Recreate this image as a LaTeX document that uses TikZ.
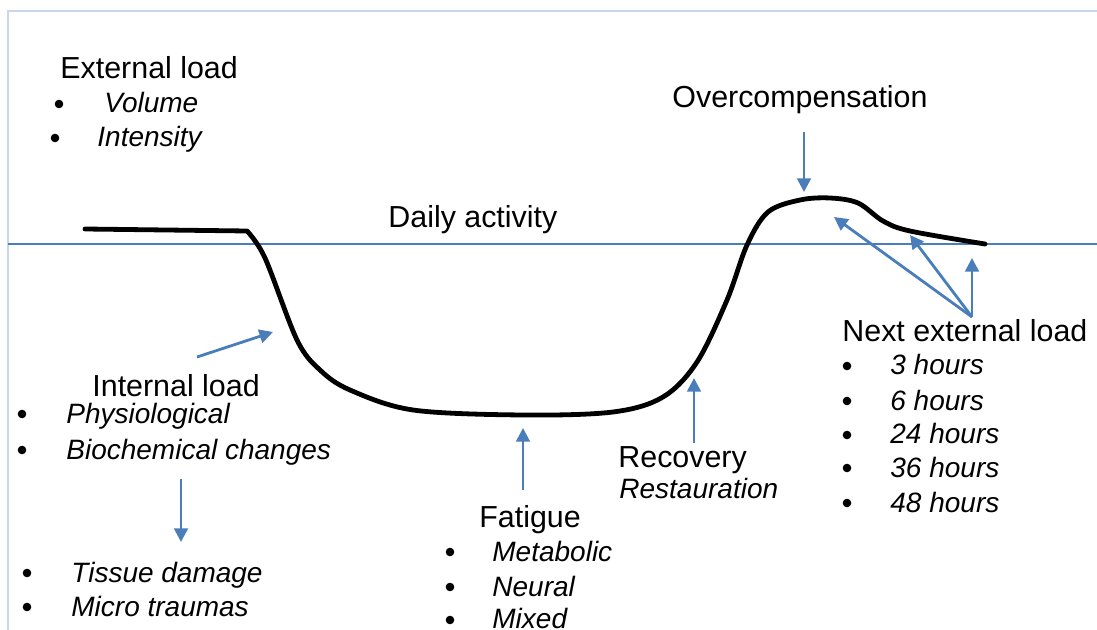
\documentclass[tikz,border=0pt]{standalone}
\usepackage{fontspec}
\setmainfont{Liberation Sans}
\usetikzlibrary{arrows.meta}
\definecolor{lblue}{HTML}{4A7EBB}
\definecolor{frameblue}{HTML}{C8D7EC}
\tikzset{
  curveline/.style={line width=2.4pt, black, line join=round, line cap=round},
  baseline/.style={draw=lblue, line width=0.65pt},
  frameline/.style={draw=frameblue, line width=0.7pt},
  arr/.style={-{Triangle[length=6.8pt,width=6.8pt]}, draw=lblue, line width=1.4pt},
  head/.style={font=\fontsize{15.2}{17}\selectfont, anchor=base west, inner sep=0pt},
  item/.style={font=\fontsize{14}{17}\selectfont\itshape, anchor=base west, inner sep=0pt},
  bul/.style={circle, fill=black, inner sep=0pt, minimum size=4.3pt}
}
\begin{document}
\begin{tikzpicture}[x=0.5pt,y=-0.5pt]
\useasboundingbox (0,0) rectangle (1097,630);
% frame
\draw[frameline] (8,640) -- (8,11) -- (1110,11);
% daily activity line
\draw[baseline] (8,244) -- (1097,244);
% curve
\draw[curveline] (85,229) -- (247,231)
  plot[smooth, tension=0.55] coordinates {(247,231) (265,258) (297,340) (320,370) (350,390) (413,410) (523,415) (613,412) (663,397) (697,362) (727,300) (747,245) (768,212) (800,200) (830,198) (858,203) (883,221) (910,231) (985,244)};

% texts
\node[head] (ext) at (60,79) {External load};
\node[bul] (b1) at (59,104) {};
\node[item] (vol) at (104,113) {Volume};
\node[bul] (b2) at (55,138) {};
\node[item] (int) at (97,147) {Intensity};

\node[head] (daily) at (388,228) {Daily activity};
\node[head] (over) at (672,108) {Overcompensation};

\node[head] (inl) at (92,397) {Internal load};
\node[bul] (b3) at (22,414) {};
\node[item] (phys) at (66,423) {Physiological};
\node[bul] (b4) at (22,450) {};
\node[item] (bio) at (66,459) {Biochemical changes};
\node[bul] (b5) at (27,573) {};
\node[item] (tis) at (71,582) {Tissue damage};
\node[bul] (b6) at (27,607) {};
\node[item] (mic) at (71,616) {Micro traumas};

\node[head] (fat) at (479,527) {Fatigue};
\node[bul] (b7) at (450,552) {};
\node[item] (met) at (492,561) {Metabolic};
\node[bul] (b8) at (450,587) {};
\node[item] (neu) at (492,596) {Neural};
\node[bul] (b9) at (450,620) {};
\node[item] (mix) at (492,628) {Mixed};

\node[head] (rec) at (618,467) {Recovery};
\node[item] (rest) at (619,498) {Restauration};

\node[head] (next) at (842,342) {Next external load};
\node[bul] (c1) at (847,366) {};
\node[item] (h3) at (890,375) {3 hours};
\node[bul] (c2) at (847,401) {};
\node[item] (h6) at (890,410) {6 hours};
\node[bul] (c3) at (847,435) {};
\node[item] (h24) at (890,444) {24 hours};
\node[bul] (c4) at (847,468) {};
\node[item] (h36) at (890,477) {36 hours};
\node[bul] (c5) at (847,503) {};
\node[item] (h48) at (890,512) {48 hours};

% arrow endpoints
\coordinate (ia1) at (197,357);
\coordinate (ia2) at (273,332);
\coordinate (da1) at (181,479);
\coordinate (da2) at (181,542);
\coordinate (fa1) at (523,490);
\coordinate (fa2) at (523,428);
\coordinate (ra1) at (694,443);
\coordinate (ra2) at (694,378);
\coordinate (oa1) at (804,132);
\coordinate (oa2) at (804,192);
\coordinate (na0) at (972,317);
\coordinate (na1) at (834,217);
\coordinate (na2) at (910,235);
\coordinate (na3) at (972,258);

\draw[arr] (ia1) -- (ia2);
\draw[arr] (da1) -- (da2);
\draw[arr] (fa1) -- (fa2);
\draw[arr] (ra1) -- (ra2);
\draw[arr] (oa1) -- (oa2);
\draw[arr] (na0) -- (na1);
\draw[arr] (na0) -- (na2);
\draw[arr] (na0) -- (na3);
\end{tikzpicture}
\end{document}
